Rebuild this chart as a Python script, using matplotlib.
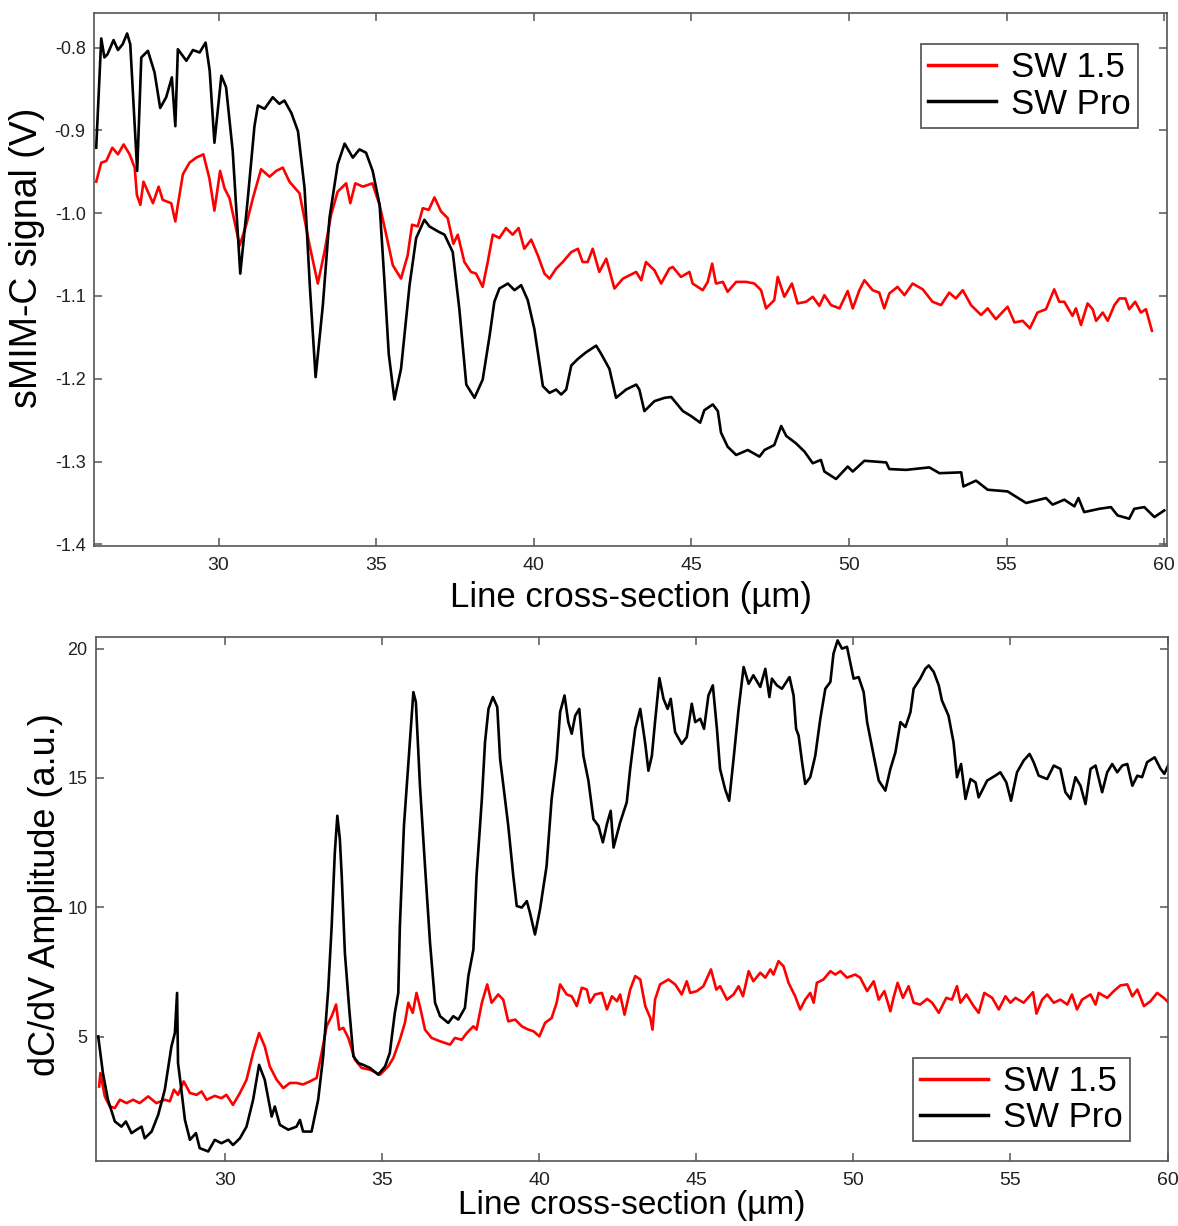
import matplotlib
matplotlib.use('Agg')
import matplotlib.pyplot as plt

# ---- top panel: sMIM-C signal (V) ----
top_x_15 = [26.12, 26.28, 26.44, 26.63, 26.81, 26.99, 27.18, 27.34, 27.41, 27.52, 27.62, 27.76, 27.92, 28.10, 28.23,
            28.50, 28.63, 28.71, 28.87, 29.08, 29.29, 29.52, 29.71, 29.87, 30.05, 30.19, 30.35, 30.67, 30.88, 31.09,
            31.35, 31.62, 31.83, 32.04, 32.25, 32.57, 32.89, 33.15, 33.36, 33.57, 33.78, 34.05, 34.18, 34.34, 34.58,
            34.88, 35.11, 35.32, 35.53, 35.79, 36.00, 36.14, 36.32, 36.48, 36.67, 36.85, 37.06, 37.27, 37.45, 37.59,
            37.80, 38.01, 38.17, 38.38, 38.54, 38.70, 38.91, 39.12, 39.33, 39.52, 39.70, 39.92, 40.13, 40.34, 40.50,
            40.71, 40.92, 41.19, 41.40, 41.55, 41.71, 41.87, 42.08, 42.30, 42.56, 42.83, 43.04, 43.25, 43.41, 43.56,
            43.83, 44.04, 44.30, 44.41, 44.67, 44.94, 45.04, 45.36, 45.52, 45.66, 45.78, 46.00, 46.15, 46.42, 46.74,
            47.00, 47.21, 47.37, 47.63, 47.74, 47.95, 48.19, 48.37, 48.64, 48.85, 49.06, 49.22, 49.43, 49.70, 49.96,
            50.12, 50.33, 50.49, 50.75, 50.96, 51.12, 51.28, 51.54, 51.76, 52.02, 52.34, 52.65, 52.92, 53.18, 53.39,
            53.61, 53.87, 54.19, 54.40, 54.66, 55.03, 55.25, 55.51, 55.74, 55.98, 56.25, 56.51, 56.67, 56.83, 57.09,
            57.20, 57.36, 57.57, 57.73, 57.84, 58.05, 58.21, 58.42, 58.58, 58.77, 58.89, 59.08, 59.26, 59.42, 59.61]
top_y_15 = [-0.962, -0.939, -0.937, -0.921, -0.929, -0.917, -0.929, -0.945, -0.978, -0.990, -0.962, -0.974, -0.988,
            -0.968, -0.984, -0.988, -1.010, -0.990, -0.953, -0.939, -0.933, -0.929, -0.958, -0.997, -0.949, -0.970,
            -0.982, -1.039, -1.014, -0.982, -0.947, -0.956, -0.949, -0.945, -0.962, -0.976, -1.039, -1.085, -1.047,
            -1.002, -0.974, -0.964, -0.988, -0.964, -0.968, -0.964, -0.990, -1.026, -1.063, -1.079, -1.051, -1.014,
            -1.016, -0.994, -0.996, -0.981, -0.998, -1.006, -1.037, -1.026, -1.059, -1.071, -1.073, -1.089, -1.059,
            -1.026, -1.030, -1.018, -1.026, -1.018, -1.043, -1.032, -1.051, -1.073, -1.079, -1.067, -1.059, -1.047,
            -1.043, -1.059, -1.059, -1.043, -1.071, -1.055, -1.091, -1.079, -1.075, -1.071, -1.081, -1.059, -1.069,
            -1.085, -1.067, -1.065, -1.077, -1.071, -1.085, -1.093, -1.083, -1.061, -1.085, -1.083, -1.095, -1.083,
            -1.083, -1.085, -1.093, -1.115, -1.105, -1.077, -1.101, -1.085, -1.109, -1.107, -1.101, -1.112, -1.099,
            -1.111, -1.115, -1.094, -1.115, -1.093, -1.081, -1.093, -1.096, -1.115, -1.097, -1.089, -1.099, -1.085,
            -1.092, -1.107, -1.111, -1.096, -1.103, -1.093, -1.111, -1.123, -1.115, -1.128, -1.113, -1.132, -1.130,
            -1.139, -1.120, -1.116, -1.092, -1.107, -1.107, -1.124, -1.115, -1.135, -1.109, -1.116, -1.130, -1.120,
            -1.130, -1.111, -1.103, -1.103, -1.116, -1.107, -1.120, -1.116, -1.142]

top_x_pro = [26.12, 26.28, 26.38, 26.48, 26.67, 26.81, 26.96, 27.10, 27.20, 27.42, 27.55, 27.76, 27.97, 28.15, 28.34,
             28.52, 28.63, 28.71, 28.98, 29.19, 29.40, 29.59, 29.72, 29.87, 30.09, 30.24, 30.45, 30.69, 30.93, 31.14,
             31.25, 31.46, 31.72, 31.93, 32.09, 32.31, 32.52, 32.73, 32.90, 33.08, 33.31, 33.52, 33.78, 34.00, 34.26,
             34.47, 34.68, 34.89, 35.11, 35.26, 35.40, 35.58, 35.79, 36.06, 36.27, 36.53, 36.69, 36.96, 37.17, 37.43,
             37.64, 37.86, 38.12, 38.38, 38.60, 38.75, 38.91, 39.18, 39.39, 39.60, 39.81, 40.02, 40.29, 40.50, 40.71,
             40.87, 41.03, 41.19, 41.40, 41.66, 41.98, 42.14, 42.40, 42.61, 42.93, 43.25, 43.35, 43.51, 43.83, 44.15,
             44.36, 44.73, 44.99, 45.28, 45.41, 45.68, 45.84, 45.94, 46.15, 46.42, 46.79, 47.16, 47.32, 47.63, 47.85,
             48.01, 48.32, 48.59, 48.85, 49.11, 49.22, 49.59, 49.96, 50.12, 50.49, 51.18, 51.28, 51.81, 52.55, 52.87,
             53.56, 53.63, 54.03, 54.40, 55.03, 55.62, 56.25, 56.46, 56.83, 57.15, 57.28, 57.46, 57.94, 58.31, 58.52,
             58.89, 59.05, 59.37, 59.69, 60.00]
top_y_pro = [-0.921, -0.789, -0.812, -0.808, -0.791, -0.803, -0.796, -0.783, -0.796, -0.949, -0.812, -0.804, -0.830,
             -0.873, -0.860, -0.836, -0.895, -0.802, -0.816, -0.803, -0.806, -0.794, -0.828, -0.915, -0.834, -0.848,
             -0.925, -1.073, -0.982, -0.895, -0.870, -0.874, -0.860, -0.868, -0.864, -0.879, -0.901, -0.970, -1.090,
             -1.198, -1.111, -1.006, -0.941, -0.916, -0.933, -0.923, -0.927, -0.949, -0.990, -1.080, -1.170, -1.225,
             -1.188, -1.087, -1.030, -1.008, -1.016, -1.022, -1.026, -1.047, -1.116, -1.207, -1.223, -1.201, -1.148,
             -1.107, -1.091, -1.085, -1.093, -1.087, -1.105, -1.140, -1.209, -1.217, -1.213, -1.219, -1.213, -1.184,
             -1.176, -1.168, -1.160, -1.170, -1.188, -1.223, -1.213, -1.207, -1.213, -1.239, -1.227, -1.223, -1.222,
             -1.239, -1.245, -1.253, -1.238, -1.231, -1.239, -1.265, -1.282, -1.292, -1.286, -1.294, -1.286, -1.280,
             -1.257, -1.269, -1.278, -1.288, -1.302, -1.298, -1.312, -1.321, -1.306, -1.312, -1.299, -1.301, -1.309,
             -1.310, -1.307, -1.314, -1.313, -1.330, -1.323, -1.334, -1.336, -1.350, -1.344, -1.352, -1.346, -1.354,
             -1.344, -1.361, -1.357, -1.355, -1.365, -1.369, -1.357, -1.355, -1.367, -1.359]

# ---- bottom panel: dC/dV amplitude (a.u.) ----
bot_x_15 = [26.00, 26.04, 26.18, 26.34, 26.50, 26.66, 26.87, 27.08, 27.29, 27.56, 27.82, 28.09, 28.25, 28.38, 28.51,
            28.69, 28.89, 29.10, 29.26, 29.42, 29.68, 29.89, 30.05, 30.26, 30.48, 30.69, 30.90, 31.09, 31.27, 31.43,
            31.65, 31.86, 32.07, 32.28, 32.49, 32.71, 32.92, 33.08, 33.24, 33.40, 33.54, 33.64, 33.77, 33.93, 34.14,
            34.35, 34.62, 34.94, 35.20, 35.36, 35.57, 35.73, 35.84, 35.98, 36.10, 36.23, 36.37, 36.58, 36.85, 37.17,
            37.32, 37.54, 37.70, 37.91, 38.01, 38.18, 38.35, 38.49, 38.70, 38.86, 39.02, 39.24, 39.45, 39.66, 39.82,
            40.01, 40.19, 40.40, 40.56, 40.67, 40.88, 41.04, 41.20, 41.36, 41.52, 41.62, 41.78, 42.00, 42.16, 42.32,
            42.48, 42.58, 42.72, 42.90, 43.06, 43.22, 43.38, 43.54, 43.61, 43.69, 43.85, 44.12, 44.33, 44.54, 44.70,
            44.81, 45.02, 45.23, 45.47, 45.64, 45.76, 45.98, 46.19, 46.35, 46.49, 46.67, 46.82, 47.04, 47.20, 47.36,
            47.46, 47.62, 47.78, 47.94, 48.15, 48.31, 48.47, 48.63, 48.74, 48.84, 49.05, 49.27, 49.43, 49.59, 49.80,
            50.06, 50.22, 50.44, 50.65, 50.81, 50.99, 51.18, 51.28, 51.41, 51.58, 51.76, 51.92, 52.13, 52.35, 52.51,
            52.72, 52.96, 53.14, 53.30, 53.41, 53.60, 53.83, 53.99, 54.17, 54.42, 54.63, 54.84, 55.00, 55.16, 55.42,
            55.72, 55.83, 56.01, 56.17, 56.38, 56.59, 56.81, 56.96, 57.12, 57.28, 57.55, 57.71, 57.81, 58.08, 58.29,
            58.50, 58.72, 58.88, 59.04, 59.25, 59.46, 59.67, 59.88, 60.04]
bot_y_15 = [3.07, 3.59, 2.69, 2.30, 2.24, 2.56, 2.43, 2.56, 2.43, 2.69, 2.43, 2.56, 2.50, 2.95, 2.75, 3.27, 2.82, 2.75,
            2.88, 2.56, 2.71, 2.62, 2.75, 2.36, 2.82, 3.33, 4.37, 5.14, 4.62, 3.85, 3.33, 3.01, 3.21, 3.21, 3.15, 3.27,
            3.40, 4.37, 5.40, 5.79, 6.24, 5.27, 5.34, 4.95, 4.11, 3.79, 3.72, 3.53, 3.85, 4.17, 4.88, 5.53, 6.31, 5.92,
            6.69, 6.05, 5.27, 4.95, 4.82, 4.69, 4.95, 4.88, 5.14, 5.40, 5.27, 6.31, 7.02, 6.31, 6.63, 6.43, 5.59, 5.66,
            5.40, 5.27, 5.21, 5.01, 5.53, 5.72, 6.31, 7.02, 6.63, 6.56, 6.18, 6.89, 6.82, 6.31, 6.63, 6.69, 6.05, 6.56,
            6.37, 6.63, 5.85, 6.82, 7.34, 7.21, 6.18, 5.72, 5.27, 6.43, 7.02, 7.21, 7.02, 6.63, 7.14, 6.69, 6.76, 6.95,
            7.60, 6.82, 6.95, 6.43, 6.63, 6.95, 6.56, 7.53, 7.14, 7.47, 7.28, 7.60, 7.40, 7.92, 7.72, 7.08, 6.56, 6.05,
            6.43, 6.69, 6.31, 7.08, 7.21, 7.53, 7.40, 7.53, 7.28, 7.40, 7.28, 6.76, 7.14, 6.43, 6.76, 5.98, 6.50, 7.08,
            6.50, 6.95, 6.31, 6.24, 6.46, 6.31, 5.92, 6.50, 6.43, 6.95, 6.31, 6.63, 6.18, 5.92, 6.69, 6.50, 6.05, 6.56,
            6.31, 6.50, 6.31, 6.72, 5.89, 6.43, 6.63, 6.31, 6.43, 6.24, 6.63, 6.05, 6.43, 6.63, 6.24, 6.69, 6.50, 6.76,
            6.98, 7.02, 6.56, 6.82, 6.18, 6.37, 6.69, 6.50, 6.31]

bot_x_pro = [25.97, 26.12, 26.28, 26.50, 26.71, 26.85, 27.03, 27.19, 27.35, 27.45, 27.67, 27.88, 28.09, 28.30, 28.41,
             28.48, 28.51, 28.59, 28.73, 28.89, 29.08, 29.20, 29.47, 29.68, 29.89, 30.11, 30.26, 30.48, 30.69, 30.90,
             31.09, 31.27, 31.49, 31.59, 31.75, 32.02, 32.28, 32.39, 32.49, 32.76, 32.97, 33.13, 33.29, 33.40, 33.50,
             33.58, 33.66, 33.72, 33.82, 33.96, 34.09, 34.25, 34.40, 34.62, 34.88, 35.10, 35.25, 35.41, 35.52, 35.57,
             35.70, 35.79, 35.89, 36.00, 36.08, 36.21, 36.37, 36.53, 36.69, 36.85, 37.11, 37.27, 37.43, 37.64, 37.75,
             37.91, 38.01, 38.18, 38.28, 38.39, 38.53, 38.67, 38.76, 38.89, 39.02, 39.18, 39.29, 39.45, 39.61, 39.71,
             39.87, 40.03, 40.24, 40.40, 40.56, 40.67, 40.81, 40.93, 41.04, 41.15, 41.28, 41.41, 41.57, 41.73, 41.89,
             42.03, 42.16, 42.28, 42.37, 42.58, 42.79, 42.90, 43.06, 43.22, 43.38, 43.48, 43.59, 43.69, 43.83, 43.96,
             44.09, 44.19, 44.33, 44.54, 44.70, 44.86, 44.97, 45.13, 45.25, 45.39, 45.53, 45.66, 45.76, 45.92, 46.05,
             46.19, 46.35, 46.51, 46.67, 46.82, 47.04, 47.20, 47.33, 47.41, 47.57, 47.73, 47.97, 48.10, 48.18, 48.26,
             48.37, 48.47, 48.63, 48.79, 48.95, 49.11, 49.27, 49.37, 49.50, 49.64, 49.80, 49.90, 50.01, 50.17, 50.33,
             50.44, 50.65, 50.81, 51.02, 51.18, 51.34, 51.50, 51.66, 51.82, 51.92, 52.13, 52.29, 52.40, 52.56, 52.72,
             52.82, 53.03, 53.19, 53.30, 53.43, 53.57, 53.73, 53.89, 53.99, 54.26, 54.52, 54.68, 54.87, 55.02, 55.21,
             55.42, 55.61, 55.74, 55.90, 56.17, 56.38, 56.59, 56.75, 56.91, 57.07, 57.23, 57.39, 57.55, 57.71, 57.92,
             58.08, 58.24, 58.40, 58.56, 58.72, 58.88, 59.04, 59.19, 59.35, 59.59, 59.78, 59.90, 60.04]
bot_y_pro = [5.01, 3.59, 2.56, 1.72, 1.52, 1.72, 1.27, 1.40, 1.52, 1.07, 1.33, 1.98, 2.95, 4.62, 5.14, 6.69, 3.98, 3.21,
             1.78, 1.01, 1.27, 0.69, 0.56, 1.01, 0.88, 1.01, 0.81, 1.07, 1.52, 2.56, 3.91, 3.33, 1.91, 2.30, 1.59, 1.40,
             1.52, 1.78, 1.33, 1.33, 2.56, 4.24, 6.82, 9.27, 12.12, 13.54, 12.64, 11.21, 8.24, 6.05, 4.24, 3.98, 3.91,
             3.79, 3.53, 3.85, 4.37, 5.92, 6.69, 9.27, 13.15, 14.70, 16.38, 18.32, 17.93, 14.70, 11.60, 8.63, 6.31, 5.79,
             5.53, 5.79, 5.66, 6.11, 7.34, 8.37, 11.21, 14.19, 16.38, 17.67, 18.13, 17.74, 15.74, 14.45, 13.15, 11.21,
             10.05, 9.99, 10.24, 9.79, 8.95, 9.92, 11.60, 14.19, 15.74, 17.55, 18.19, 17.16, 16.71, 17.41, 17.67, 15.86,
             14.90, 13.41, 13.15, 12.51, 13.22, 13.73, 12.31, 13.28, 14.06, 15.35, 16.90, 17.67, 16.32, 15.28, 15.86,
             17.16, 18.86, 18.06, 17.67, 18.06, 16.77, 16.32, 16.58, 17.87, 17.16, 17.29, 16.90, 18.19, 18.58, 16.90,
             15.35, 14.57, 14.12, 15.74, 17.67, 19.29, 18.64, 18.97, 18.52, 19.22, 18.13, 18.84, 18.58, 18.45, 18.90,
             18.19, 16.90, 16.64, 15.61, 14.77, 15.03, 15.86, 17.29, 18.45, 18.71, 19.81, 20.32, 20.00, 20.07, 19.48,
             18.84, 18.90, 18.32, 17.16, 15.86, 14.90, 14.51, 15.35, 15.99, 17.16, 16.97, 17.55, 18.45, 18.84, 19.22,
             19.35, 19.10, 18.58, 18.00, 17.41, 16.38, 15.03, 15.54, 14.19, 14.96, 14.83, 14.25, 14.90, 15.09, 15.22,
             14.83, 14.12, 15.22, 15.67, 15.93, 15.61, 15.09, 14.96, 15.48, 15.35, 14.45, 14.19, 15.03, 14.70, 13.99,
             15.35, 15.48, 14.45, 15.22, 15.54, 15.22, 15.48, 15.54, 14.70, 15.09, 15.03, 15.61, 15.80, 15.35, 15.16,
             15.54]

top_yticks = [-1.4, -1.3, -1.2, -1.1, -1.0, -0.9, -0.8]
bot_yticks = [5, 10, 15, 20]
xticks = [30, 35, 40, 45, 50, 55, 60]
labels = ['SW 1.5', 'SW Pro']

plt.rcParams['font.family'] = ['Liberation Sans', 'DejaVu Sans']
AX_C = '#555555'
NARROW = ['Liberation Sans Narrow', 'Liberation Sans', 'DejaVu Sans']

fig = plt.figure(figsize=(11.78, 12.26), dpi=100)
ax1 = fig.add_axes([0.0798, 0.5546, 0.9109, 0.4350])
ax2 = fig.add_axes([0.0815, 0.0533, 0.9104, 0.4269])


def style(ax):
    for s in ax.spines.values():
        s.set_color(AX_C)
        s.set_linewidth(1.2)
    ax.tick_params(direction='in', length=6, width=1.1, color=AX_C, top=True, right=True,
                   labelcolor='#222222')
    ax.tick_params(axis='y', labelsize=13, pad=6)
    ax.tick_params(axis='x', labelsize=14, pad=8)
    ax.set_xticks(xticks)
    ax.set_xticklabels([str(v) for v in xticks], family=NARROW)


def add_legend(ax, anchor):
    lg = ax.legend(loc='upper right', bbox_to_anchor=anchor, fontsize=25, frameon=True, fancybox=False,
                   handlelength=1.95, handletextpad=0.45, labelspacing=0.1, borderpad=0.2, borderaxespad=0)
    lg.get_frame().set_edgecolor('#333333')
    lg.get_frame().set_linewidth(1.3)
    for l in lg.get_lines():
        l.set_linewidth(2.5)


ax1.plot(top_x_15, top_y_15, color='#FF0000', lw=1.9, label=labels[0])
ax1.plot(top_x_pro, top_y_pro, color='black', lw=1.9, label=labels[1])
ax1.set_xlim(26.05, 60.09)
ax1.set_ylim(-1.402, -0.758)
ax1.set_yticks(top_yticks)
ax1.set_yticklabels([f'{v:.1f}' for v in top_yticks])
style(ax1)
ax1.set_xlabel('Line cross-section (µm)', fontsize=25, labelpad=5)
ax1.set_ylabel('sMIM-C signal (V)', fontsize=27)
ax1.yaxis.set_label_coords(-0.046, 0.54)
add_legend(ax1, (0.973, 0.941))

ax2.plot(bot_x_15, bot_y_15, color='#FF0000', lw=1.9, label=labels[0])
ax2.plot(bot_x_pro, bot_y_pro, color='black', lw=1.9, label=labels[1])
ax2.set_xlim(25.90, 60.03)
ax2.set_ylim(0.205, 20.44)
ax2.set_yticks(bot_yticks)
style(ax2)
ax2.set_xlabel('Line cross-section (µm)', fontsize=24, labelpad=1)
ax2.set_ylabel('dC/dV Amplitude (a.u.)', fontsize=26)
ax2.yaxis.set_label_coords(-0.031, 0.508)
add_legend(ax2, (0.964, 0.196))

fig.savefig('out.png', dpi=100)
